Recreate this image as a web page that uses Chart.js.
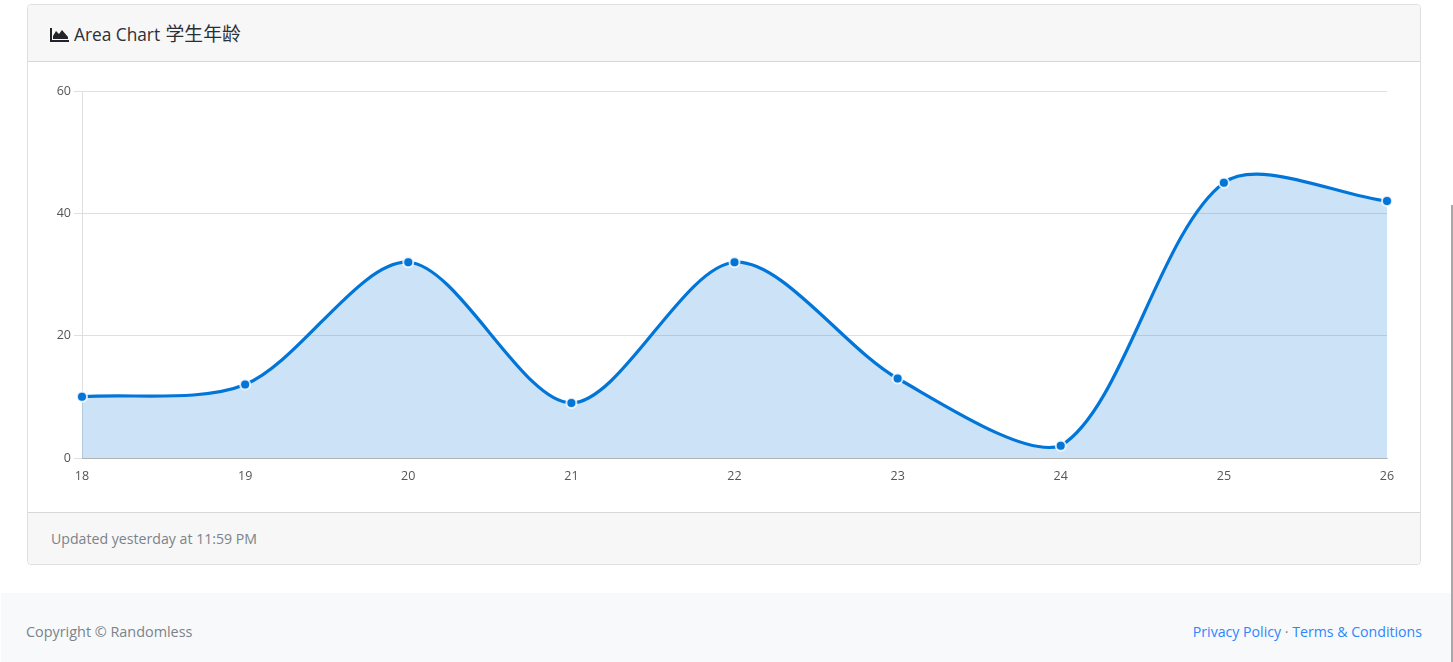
<!DOCTYPE html>
<html>
<head>
<meta charset="utf-8">
<title>Area Chart</title>
<script src="https://cdn.jsdelivr.net/npm/chart.js@4"></script>
<style>
html, body { margin: 0; padding: 0; background: #fff; overflow: hidden; }
body { width: 1453px; height: 662px; position: relative; font-family: "Open Sans", "Noto Sans CJK SC", sans-serif; color: #212529; }
.card { position: absolute; left: 27px; top: 4px; width: 1392px; height: 559px; border: 1px solid rgba(0,0,0,.125); border-radius: 4px; overflow: hidden; }
.card-header { height: 56px; line-height: 58px; padding-left: 22px; background: #f7f7f7; border-bottom: 1px solid rgba(0,0,0,.125); font-size: 17.3px; color: #2b3035; }
.card-header svg { width: 19px; height: 14px; vertical-align: -1px; margin-right: 5px; fill: #212529; }
.card-header span { font-size: 18.8px; margin-left: 1px; }
.chart-wrap { position: absolute; left: 0; top: 57px; width: 1392px; height: 451px; }
canvas { display: block; }
.card-footer { position: absolute; left: 0; right: 0; bottom: 0; height: 51px; line-height: 51px; padding-left: 23px; background: #f7f7f7; border-top: 1px solid rgba(0,0,0,.125); font-size: 14.15px; color: #7b838a; }
.footer { position: absolute; left: 1px; top: 593px; width: 1450px; height: 69px; background: #f8f9fa; font-size: 14.4px; line-height: 78px; color: #7b838a; }
.footer .left { position: absolute; left: 25px; }
.footer .right { position: absolute; right: 29px; font-size: 14.15px; }
.footer a { color: #2f86ff; text-decoration: none; }
.scroll { position: absolute; left: 1451px; top: 205px; width: 2px; height: 457px; background: #a8a8a8; }
</style>
</head>
<body>
<div class="card">
  <div class="card-header"><svg viewBox="0 0 19 14"><path d="M0 0h2v12h17v2H0zM3 11V8l3-5 3 3 3-4 6 7v2z"/></svg>Area Chart <span>学生年龄</span></div>
  <div class="chart-wrap"><canvas id="myAreaChart" width="1392" height="451"></canvas></div>
  <div class="card-footer">Updated yesterday at 11:59 PM</div>
</div>
<div class="footer">
  <span class="left">Copyright © Randomless</span>
  <span class="right"><a href="#">Privacy Policy</a> · <a href="#">Terms &amp; Conditions</a></span>
</div>
<div class="scroll"></div>
<script>
const ages = ["18", "19", "20", "21", "22", "23", "24", "25", "26"];
const students = [10, 12, 32, 9, 32, 13, 2, 45, 42];
const yTicks = [0, 20, 40, 60];

const tickFont = { family: '"Open Sans", sans-serif', size: 12.5 };

new Chart(document.getElementById('myAreaChart'), {
    type: 'line',
    data: {
        labels: ages,
        datasets: [{
            label: '学生年龄',
            data: students,
            fill: true,
            tension: 0.3,
            borderWidth: 3.2,
            borderColor: 'rgba(2,117,216,1)',
            backgroundColor: 'rgba(2,117,216,0.2)',
            pointRadius: 5,
            pointBorderWidth: 2,
            pointBackgroundColor: 'rgba(2,117,216,1)',
            pointBorderColor: 'rgba(255,255,255,0.8)'
        }]
    },
    options: {
        responsive: false,
        animation: false,
        events: [],
        layout: { padding: { left: 24, right: 33, top: 29, bottom: 24 } },
        plugins: { legend: { display: false }, tooltip: { enabled: false } },
        scales: {
            x: {
                grid: { display: false, drawTicks: false },
                border: { color: 'rgba(0,0,0,.2)' },
                ticks: { color: '#555', font: tickFont, maxRotation: 0, padding: 11 },
                afterFit: function (axis) { axis.height = 31; }
            },
            y: {
                min: 0,
                max: 60,
                afterBuildTicks: function (axis) { axis.ticks = yTicks.map(function (v) { return { value: v }; }); },
                grid: { color: 'rgba(0,0,0,.125)', tickLength: 8 },
                border: { color: 'rgba(0,0,0,.125)' },
                ticks: { color: '#555', font: tickFont, padding: 3 },
                afterFit: function (axis) { axis.width = 30; }
            }
        }
    }
});
</script>
</body>
</html>
